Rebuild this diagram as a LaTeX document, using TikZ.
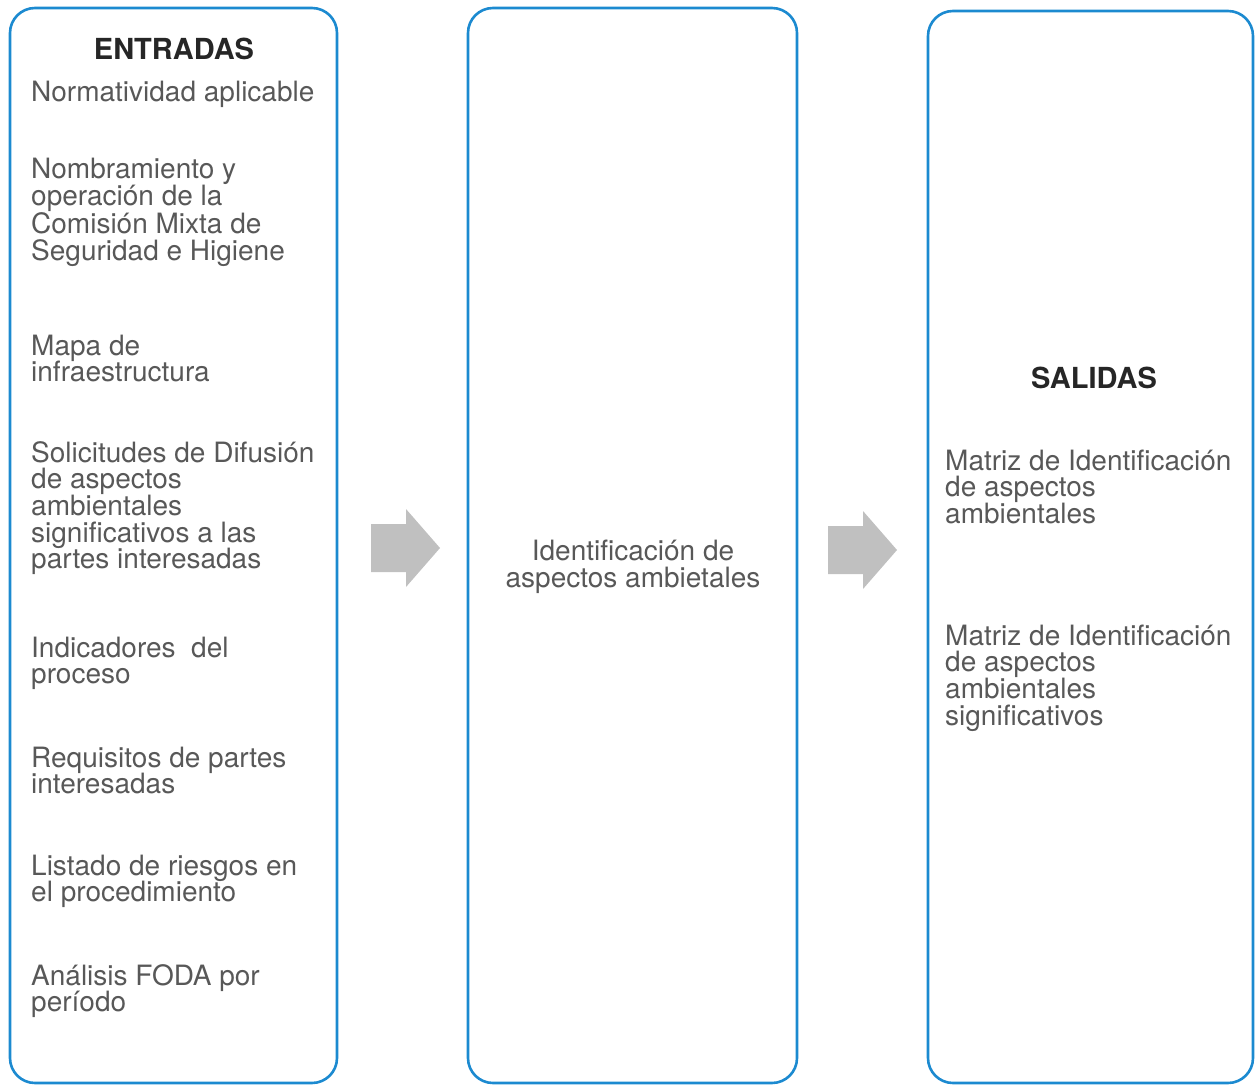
\documentclass[tikz,border=0pt]{standalone}
\usepackage{fontspec}
\setmainfont{TeX Gyre Heros}
\usetikzlibrary{positioning}

\definecolor{panelblue}{RGB}{28,138,208}
\definecolor{itemgray}{RGB}{88,88,88}
\definecolor{arrowgray}{RGB}{192,192,192}

\tikzset{
  panel/.style={draw=panelblue,line width=2.6pt,rounded corners=25pt,rectangle,inner sep=0pt},
  heading/.style={font=\fontsize{29}{28}\selectfont\bfseries,text=black!85,inner sep=0pt,anchor=base},
  item/.style={font=\fontsize{28}{26.7}\selectfont,text=itemgray,align=left,inner sep=0pt,anchor=base west}
}

\begin{document}
\begin{tikzpicture}[x=1pt,y=-1pt]

\useasboundingbox (0,0) rectangle (1255,1086);

% the three panels
\node[panel,minimum width=327pt,minimum height=1075pt] (entradas) at (173.5,545.5) {};
\node[panel,minimum width=329pt,minimum height=1075pt] (proceso) at (632.5,545.5) {};
\node[panel,minimum width=325pt,minimum height=1072pt] (salidas) at (1090.5,547) {};

% block arrows between the panels
\foreach \ax/\ay in {371/548, 828/550}
  \fill[arrowgray,shift={(\ax,\ay)}] (0,-24) -- (35,-24) -- (35,-39) -- (69,0)
    -- (35,39) -- (35,24) -- (0,24) -- cycle;

% inputs (nodes sit on the baseline of their last line)
\node[heading] (titleIn) at (174,60) {ENTRADAS};
\node[item] (in1) at (31,102) {Normatividad aplicable};
\node[item] (in2) at (31,260) {Nombramiento y\\operación de la\\Comisión Mixta de\\Seguridad e Higiene};
\node[item] (in3) at (31,381.7) {Mapa de\\infraestructura};
\node[item] (in4) at (31,568.8) {Solicitudes de Difusión\\de aspectos\\ambientales\\significativos a las\\partes interesadas};
\node[item] (in5) at (31,683.7) {Indicadores \ del\\proceso};
\node[item] (in6) at (31,793.7) {Requisitos de partes\\interesadas};
\node[item] (in7) at (31,901.7) {Listado de riesgos en\\el procedimiento};
\node[item] (in8) at (31,1011.7) {Análisis FODA por\\período};

% process
\node[item,align=center,anchor=base] (task) at (633,587) {Identificación de\\aspectos ambietales};

% outputs
\node[heading] (titleOut) at (1094,388) {SALIDAS};
\node[item] (out1) at (945,523.4) {Matriz de Identificación\\de aspectos\\ambientales};
\node[item] (out2) at (945,725.1) {Matriz de Identificación\\de aspectos\\ambientales\\significativos};

\end{tikzpicture}
\end{document}
